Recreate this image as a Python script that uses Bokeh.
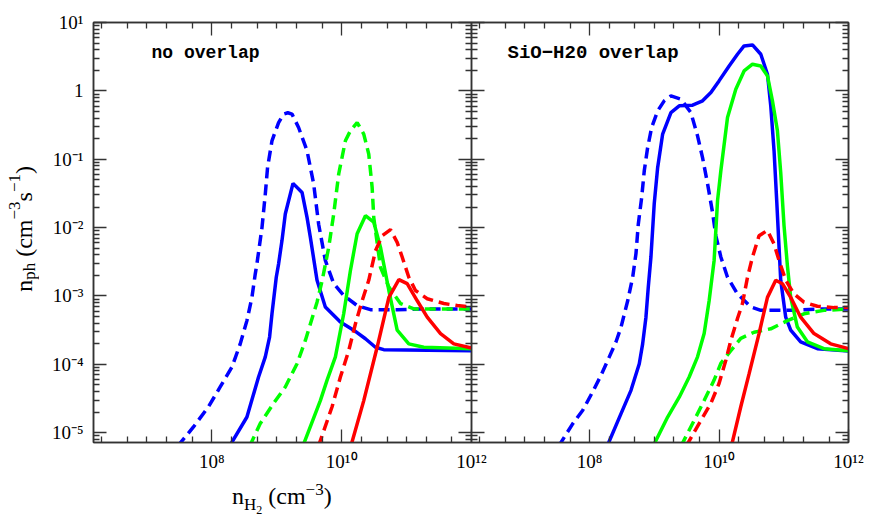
from bokeh.plotting import figure
from bokeh.models import LogAxis, FixedTicker, Range1d, Label, Div
from bokeh.layouts import row, column
from bokeh.embed import file_html
from bokeh.resources import INLINE

# ---------------- axis ranges / ticks ----------------
X_RANGE = (1.5e6, 1e12)
Y_RANGE = (7.2e-6, 10.0)

x_major = [1e8, 1e10, 1e12]
x_minor = [2e6, 5e6, 1e7, 2e7, 5e7, 2e8, 5e8, 1e9, 2e9, 5e9,
           2e10, 5e10, 1e11, 2e11, 5e11]
x_tick_labels = ["10⁸", "10¹⁰", "10¹²"]

y_major = [10.0, 1.0, 0.1, 0.01, 1e-3, 1e-4, 1e-5]
y_minor = [m * 10.0 ** e for e in range(-6, 1) for m in range(2, 10)]
y_tick_labels = ["10¹", "1", "10⁻¹", "10⁻²", "10⁻³", "10⁻⁴", "10⁻⁵"]

panel_titles = ["no overlap", "SiO−H20 overlap"]

# ---------------- data: log10(n_H2), log10(n_ph) ----------------
# left panel: no overlap
lb_dash_lx = [7.47, 7.716, 7.948, 8.128, 8.309, 8.437, 8.54, 8.617, 8.668, 8.694, 8.772, 8.823,
              8.858, 8.926, 9.028, 9.105, 9.17, 9.235, 9.336, 9.466, 9.568, 9.645, 9.748, 9.877,
              10.03, 10.238, 10.443, 10.855, 11.215, 12.0]
lb_dash_ly = [-5.2, -4.915, -4.62, -4.33, -4.04, -3.70, -3.36, -3.02, -2.68, -2.53, -2.00, -1.51,
              -1.12, -0.73, -0.463, -0.34, -0.32, -0.34, -0.536, -0.876, -1.36, -1.95, -2.48, -2.82,
              -2.99, -3.14, -3.20, -3.20, -3.19, -3.19]

lb_solid_lx = [8.27, 8.54, 8.719, 8.823, 8.889, 8.926, 8.992, 9.028, 9.08, 9.131, 9.25, 9.389,
               9.466, 9.517, 9.62, 9.748, 9.98, 10.185, 10.366, 10.52, 10.648, 12.0]
lb_solid_ly = [-5.2, -4.77, -4.185, -3.89, -3.60, -3.26, -2.725, -2.53, -2.19, -1.80, -1.353, -1.485,
               -1.85, -2.14, -2.77, -3.16, -3.38, -3.50, -3.625, -3.75, -3.785, -3.80]

lg_dash_lx = [8.58, 8.745, 8.951, 9.131, 9.312, 9.44, 9.62, 9.70, 9.80, 9.877, 9.954, 10.057,
              10.134, 10.238, 10.34, 10.417, 10.469, 10.494, 10.52, 10.598, 10.727, 10.906, 11.112, 12.0]
lg_dash_ly = [-5.2, -4.866, -4.57, -4.33, -3.99, -3.65, -3.09, -2.77, -2.29, -1.80, -1.216, -0.73,
              -0.584, -0.463, -0.632, -0.924, -1.41, -1.85, -2.04, -2.58, -2.87, -3.11, -3.19, -3.19]

lg_solid_lx = [9.40, 9.671, 9.775, 9.903, 10.031, 10.134, 10.238, 10.366, 10.494, 10.598, 10.727,
               10.855, 11.034, 11.265, 12.0]
lg_solid_ly = [-5.2, -4.53, -4.23, -3.89, -3.26, -2.63, -2.09, -1.825, -1.92, -2.29, -2.92,
               -3.50, -3.70, -3.75, -3.77]

lr_dash_lx = [9.64, 9.852, 9.98, 10.108, 10.211, 10.315, 10.417, 10.52, 10.623, 10.752, 10.855,
              10.932, 11.034, 11.137, 11.318, 11.574, 11.78, 12.0]
lr_dash_ly = [-5.2, -4.62, -4.185, -3.80, -3.41, -3.07, -2.77, -2.34, -2.12, -2.03, -2.215,
              -2.43, -2.725, -2.92, -3.04, -3.11, -3.14, -3.16]

lr_solid_lx = [10.14, 10.34, 10.546, 10.727, 10.881, 11.009, 11.164, 11.318, 11.523, 11.728, 12.0]
lr_solid_ly = [-5.2, -4.53, -3.75, -3.02, -2.76, -2.82, -3.07, -3.31, -3.55, -3.70, -3.76]

# right panel: SiO-H2O overlap
rb_dash_lx = [7.52, 7.741, 7.895, 8.049, 8.177, 8.305, 8.409, 8.486, 8.589, 8.666, 8.717, 8.753,
              8.805, 8.845, 8.897, 8.959, 9.052, 9.153, 9.257, 9.411, 9.565, 9.668, 9.746, 9.823,
              9.90, 9.951, 10.028, 10.131, 10.285, 10.49, 10.645, 11.107, 11.519, 12.0]
rb_dash_ly = [-5.2, -4.866, -4.67, -4.40, -4.16, -3.89, -3.67, -3.455, -3.07, -2.725, -2.38, -1.946,
              -1.56, -1.168, -0.83, -0.536, -0.292, -0.146, -0.073, -0.121, -0.317, -0.657, -0.98, -1.36,
              -1.78, -2.12, -2.43, -2.725, -2.97, -3.16, -3.21, -3.21, -3.19, -3.19]

rb_solid_lx = [8.27, 8.486, 8.64, 8.768, 8.82, 8.871, 8.907, 8.948, 8.999, 9.052, 9.129, 9.257,
               9.385, 9.591, 9.746, 9.874, 10.0, 10.156, 10.285, 10.387, 10.517, 10.645, 10.748,
               10.799, 10.85, 10.891, 10.922, 10.953, 11.03, 11.107, 11.261, 11.519, 12.0]
rb_solid_ly = [-5.2, -4.72, -4.38, -3.99, -3.70, -3.31, -2.87, -2.43, -1.65, -1.12, -0.632, -0.317,
               -0.219, -0.209, -0.146, -0.025, 0.146, 0.365, 0.536, 0.657, 0.672, 0.536, 0.244,
               -0.219, -0.876, -1.606, -2.19, -2.77, -3.31, -3.50, -3.67, -3.77, -3.806]

rg_solid_lx = [8.98, 9.206, 9.385, 9.539, 9.668, 9.77, 9.847, 9.924, 9.977, 10.028, 10.131, 10.259,
               10.387, 10.517, 10.645, 10.748, 10.825, 10.902, 10.953, 11.004, 11.056, 11.107,
               11.21, 11.365, 11.62, 12.0]
rg_solid_ly = [-5.2, -4.77, -4.48, -4.185, -3.89, -3.55, -3.07, -2.48, -1.606, -1.168, -0.39, 0.025,
               0.292, 0.39, 0.365, 0.219, -0.146, -0.584, -1.197, -1.97, -2.555, -3.02,
               -3.455, -3.67, -3.77, -3.80]

rg_dash_lx = [9.41, 9.616, 9.77, 9.924, 10.028, 10.182, 10.336, 10.541, 10.799, 11.056, 11.312, 11.62, 12.0]
rg_dash_ly = [-5.2, -4.82, -4.53, -4.23, -3.985, -3.80, -3.62, -3.53, -3.48, -3.36, -3.26, -3.21, -3.19]

rr_dash_lx = [9.49, 9.72, 9.874, 10.0, 10.105, 10.182, 10.285, 10.362, 10.44, 10.517, 10.618,
              10.748, 10.85, 10.927, 11.03, 11.158, 11.312, 11.519, 11.775, 12.0]
rr_dash_ly = [-5.2, -4.82, -4.57, -4.28, -3.94, -3.65, -3.33, -3.11, -2.725, -2.43, -2.12,
              -2.04, -2.24, -2.48, -2.77, -2.97, -3.09, -3.15, -3.17, -3.17]

rr_solid_lx = [10.19, 10.336, 10.464, 10.618, 10.748, 10.876, 10.979, 11.107, 11.261, 11.467, 11.724, 12.0]
rr_solid_ly = [-5.2, -4.62, -4.14, -3.55, -3.02, -2.77, -2.82, -3.02, -3.31, -3.55, -3.70, -3.77]

BLUE, GREEN, RED = "#0000ff", "#00ff00", "#ff0000"
AX = "#333333"
SERIF = "Liberation Serif"
MONO = "Liberation Mono"

left_curves = [
    (lb_dash_lx, lb_dash_ly, BLUE, True), (lb_solid_lx, lb_solid_ly, BLUE, False),
    (lg_dash_lx, lg_dash_ly, GREEN, True), (lg_solid_lx, lg_solid_ly, GREEN, False),
    (lr_dash_lx, lr_dash_ly, RED, True), (lr_solid_lx, lr_solid_ly, RED, False),
]
right_curves = [
    (rb_dash_lx, rb_dash_ly, BLUE, True), (rb_solid_lx, rb_solid_ly, BLUE, False),
    (rg_dash_lx, rg_dash_ly, GREEN, True), (rg_solid_lx, rg_solid_ly, GREEN, False),
    (rr_dash_lx, rr_dash_ly, RED, True), (rr_solid_lx, rr_solid_ly, RED, False),
]


def style_axis(ax, ticks, minor, labels):
    ax.ticker = FixedTicker(ticks=ticks, minor_ticks=minor)
    ax.major_tick_in = 13
    ax.major_tick_out = 0
    ax.minor_tick_in = 6
    ax.minor_tick_out = 0
    ax.axis_line_color = AX
    ax.axis_line_width = 1.5
    ax.major_tick_line_color = AX
    ax.major_tick_line_width = 1.3
    ax.minor_tick_line_color = AX
    ax.minor_tick_line_width = 1.3
    if labels is not None:
        ax.major_label_overrides = dict(zip(ticks, labels))
        ax.major_label_text_font = SERIF
        ax.major_label_text_font_size = "19px"
        ax.major_label_text_color = "black"
    else:
        ax.major_label_overrides = {t: "" for t in ticks}
        ax.major_label_text_font_size = "0px"
        ax.major_label_standoff = 0


def make_panel(curves, show_y_labels, b_left, b_right, f_width, **kw):
    p = figure(x_axis_type="log", y_axis_type="log",
               x_range=Range1d(*X_RANGE), y_range=Range1d(*Y_RANGE),
               frame_width=f_width, frame_height=420,
               min_border_left=b_left, min_border_right=b_right,
               min_border_top=22, min_border_bottom=66,
               output_backend="svg", toolbar_location=None, **kw)
    p.xgrid.visible = False
    p.ygrid.visible = False
    p.outline_line_color = AX
    p.outline_line_width = 1.5
    style_axis(p.xaxis[0], x_major, x_minor, x_tick_labels)
    p.xaxis[0].major_label_standoff = 8
    style_axis(p.yaxis[0], y_major, y_minor, y_tick_labels if show_y_labels else None)
    if show_y_labels:
        p.yaxis[0].major_label_standoff = 10
    top = LogAxis()
    style_axis(top, x_major, x_minor, None)
    p.add_layout(top, "above")
    right = LogAxis()
    style_axis(right, y_major, y_minor, None)
    p.add_layout(right, "right")
    for lx, ly, col, dashed in curves:
        xs = [10.0 ** v for v in lx]
        ys = [10.0 ** v for v in ly]
        p.line(xs, ys, line_color=col, line_width=3.5,
               line_dash="11 6" if dashed else "solid")
    return p


def add_title(p, text, sx, size):
    p.add_layout(Label(x=sx, y=390, x_units="screen", y_units="screen", text=text,
                       text_font=MONO, text_font_size=f"{size}px", text_font_style="bold",
                       text_align="left", text_baseline="alphabetic", text_color="black"))


YLAB_W = 40
left = make_panel(left_curves, True, 93 - YLAB_W, 16, 378)
right = make_panel(right_curves, False, 0, 22, 377, margin=(0, 0, 0, -16))
right.border_fill_color = None

add_title(left, panel_titles[0], 58, 18)
add_title(right, panel_titles[1], 36, 19)

SUB = "line-height:0;"
y_label_html = (
    '<div style="width:38px;height:458px;display:flex;align-items:center;justify-content:flex-end;">'
    '<div style="writing-mode:vertical-rl;transform:rotate(180deg);font-family:\'Liberation Serif\';'
    'font-size:24px;line-height:28px;white-space:nowrap;color:black;">'
    'n<sub style="font-size:17px;' + SUB + '">ph</sub>&nbsp;(cm<sup style="font-size:17px;' + SUB + '">−3</sup>'
    's<sup style="font-size:17px;' + SUB + '">−1</sup>)</div></div>'
)
x_label_html = (
    '<div style="font-family:\'Liberation Serif\';font-size:24px;line-height:28px;'
    'white-space:nowrap;color:black;">'
    'n<sub style="font-size:17px;' + SUB + '">H<sub style="font-size:12px;' + SUB + '">2</sub></sub>'
    '&nbsp;(cm<sup style="font-size:17px;' + SUB + '">−3</sup>)</div>'
)

y_div = Div(text=y_label_html, width=YLAB_W, height=508, margin=(0, 0, 0, 0))
x_div = Div(text=x_label_html, width=240, height=32, margin=(-26, 0, 0, 232))

layout = column(row(y_div, left, right), x_div)
open("out.html", "w").write(file_html(layout, INLINE))
